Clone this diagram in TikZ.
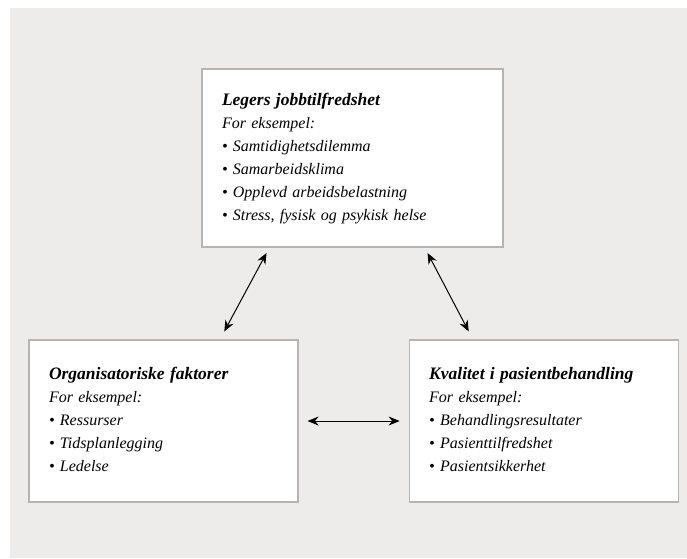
\documentclass[tikz,border=0pt]{standalone}
\usepackage{fontspec}
\setmainfont{Liberation Serif}
\usepackage{tikz}
\usetikzlibrary{arrows.meta}
\usetikzlibrary{positioning,calc}
\definecolor{panelgray}{HTML}{EDECEB}
\definecolor{framegray}{HTML}{B4B4B4}
\newcommand{\factorhead}[1]{{\fontsize{17.5}{23}\selectfont\bfseries #1}}
\tikzset{
    factor/.style={
           rectangle,
           draw=framegray, line width=1.2pt,
           fill=white,
           inner xsep=20pt,
           inner ysep=0pt,
           align=left,
           font=\fontsize{16}{23}\selectfont\itshape,
           },
    link/.style={
           <->,
           line width=1pt,
           shorten <=6pt, shorten >=9pt,
           },
}

\begin{document}
\begin{tikzpicture}
[
x=1pt,y=-1pt,
>={Stealth[length=11pt,width=9pt]}
]

 % background panel
 \useasboundingbox (0,0) rectangle (687,558);
 \fill[panelgray] (10,8) rectangle (687,558);

 % Top node: job satisfaction
 \node[factor,
 minimum width=301pt, minimum height=178pt,
 text width=261pt] (LEGER) at (352.5,158)
 {%
 \begin{tabular}{@{}l@{}}
  \factorhead{Legers jobbtilfredshet}\\
  For eksempel:\\
  \textbullet\ Samtidighetsdilemma\\
  \textbullet\ Samarbeidsklima\\
  \textbullet\ Opplevd arbeidsbelastning\\
  \textbullet\ Stress, fysisk og psykisk helse
 \end{tabular}
 };

 % Left node: organisation
 \node[factor,
 minimum width=269pt, minimum height=162pt,
 text width=229pt] (ORG) at (163.5,421)
 {%
 \begin{tabular}{@{}l@{}}
  \factorhead{Organisatoriske faktorer}\\
  For eksempel:\\
  \textbullet\ Ressurser\\
  \textbullet\ Tidsplanlegging\\
  \textbullet\ Ledelse
 \end{tabular}
 };

 % Right node: quality of care
 \node[factor,
 right=110pt of ORG,
 minimum width=269pt, minimum height=162pt,
 text width=229pt] (KVAL)
 {%
 \begin{tabular}{@{}l@{}}
  \factorhead{Kvalitet i pasientbehandling}\\
  For eksempel:\\
  \textbullet\ Behandlingsresultater\\
  \textbullet\ Pasienttilfredshet\\
  \textbullet\ Pasientsikkerhet
 \end{tabular}
 };

 % the two-way links
 \draw[link] ($(LEGER.south west)!0.225!(LEGER.south east)$)
  -- ($(ORG.north west)!0.709!(ORG.north east)$);
 \draw[link] ($(LEGER.south west)!0.739!(LEGER.south east)$)
  -- ($(KVAL.north west)!0.238!(KVAL.north east)$);
 \draw[link, shorten <=9pt] (ORG) -- (KVAL);
\end{tikzpicture}
\end{document}
